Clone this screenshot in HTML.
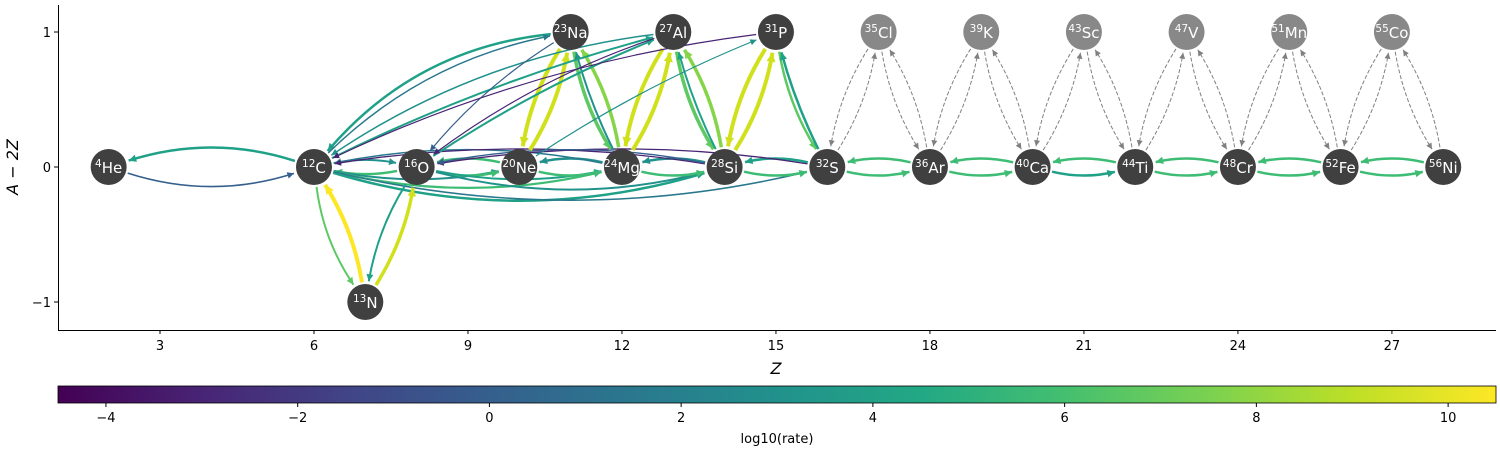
<!DOCTYPE html><html><head><meta charset="utf-8"><style>body{margin:0;background:#fff}svg{display:block;font-family:"DejaVu Sans","Liberation Sans",sans-serif}</style></head><body>
<svg id="s" width="1500" height="450" xmlns="http://www.w3.org/2000/svg">
<defs><linearGradient id="vir" x1="0" x2="1">
<stop offset="0" stop-color="#440154"/><stop offset="0.1" stop-color="#482475"/><stop offset="0.2" stop-color="#414487"/><stop offset="0.3" stop-color="#355f8d"/><stop offset="0.4" stop-color="#2a788e"/><stop offset="0.5" stop-color="#21918c"/><stop offset="0.6" stop-color="#22a884"/><stop offset="0.7" stop-color="#44bf70"/><stop offset="0.8" stop-color="#7ad151"/><stop offset="0.9" stop-color="#bddf26"/><stop offset="1" stop-color="#fde725"/></linearGradient></defs>
<g id="edges"></g><g id="nodes"></g>
<g stroke="#000" stroke-width="1" fill="none"><path d="M58.5,5 V330.5 H1496"/></g>
<g id="axes" font-size="13" fill="#000"></g>
<rect x="58" y="386" width="1438" height="17" fill="url(#vir)" stroke="#000" stroke-width="0.8"/>
<text x="776" y="374" font-size="16" font-style="italic" text-anchor="middle">Z</text>
<text x="18" y="167" font-size="16" font-style="italic" text-anchor="middle" transform="rotate(-90 18 167)">A − 2Z</text>
<text x="777" y="443" font-size="13" text-anchor="middle">log10(rate)</text>
</svg>
<script>
const X=z=>6+z*51.33, Y=v=>167-v*135;
const N={He:[2,0,4],C:[6,0,12],N:[7,-1,13],O:[8,0,16],Ne:[10,0,20],Na:[11,1,23],Mg:[12,0,24],Al:[13,1,27],Si:[14,0,28],P:[15,1,31],S:[16,0,32],Cl:[17,1,35],Ar:[18,0,36],K:[19,1,39],Ca:[20,0,40],Sc:[21,1,43],Ti:[22,0,44],V:[23,1,47],Cr:[24,0,48],Mn:[25,1,51],Fe:[26,0,52],Co:[27,1,55],Ni:[28,0,56]};
const eg=document.getElementById('edges'),ng=document.getElementById('nodes'),ax=document.getElementById('axes');
const ns="http://www.w3.org/2000/svg";
function el(t,a,p){const e=document.createElementNS(ns,t);for(const k in a)e.setAttribute(k,a[k]);(p||eg).appendChild(e);return e;}
function E(a,b,c,w,r,dash){const A=N[a],B=N[b];let x1=X(A[0]),y1=Y(A[1]),x2=X(B[0]),y2=Y(B[1]);
 const dx=x2-x1,dy=y2-y1,d=Math.hypot(dx,dy);const mx=(x1+x2)/2-dy*r,my=(y1+y2)/2+dx*r;
 let sx=x1+(mx-x1)*20/Math.hypot(mx-x1,my-y1),sy=y1+(my-y1)*20/Math.hypot(mx-x1,my-y1);
 let l2=Math.hypot(mx-x2,my-y2),ex=x2+(mx-x2)*21/l2,ey=y2+(my-y2)*21/l2;
 const p=el('path',{d:`M${sx},${sy} Q${mx},${my} ${ex},${ey}`,stroke:c,'stroke-width':w,fill:'none'});
 if(dash)p.setAttribute('stroke-dasharray','4,2');
 const ux=(ex-mx),uy=(ey-my);const L=Math.hypot(ux,uy);const vx=ux/L,vy=uy/L;const hs=5+w;
 el('path',{d:`M${ex},${ey} L${ex-vx*hs-vy*hs*0.5},${ey-vy*hs+vx*hs*0.5} L${ex-vx*hs+vy*hs*0.5},${ey-vy*hs-vx*hs*0.5}Z`,fill:c});}
const G='#3dbc74',T='#21918c',T2='#2a788e',B='#355f8d',P='#482475',Y1='#fde725',Y2='#d0e11c',L='#86d549',L2='#5ec962',TG='#1fa187';
E('He','C',B,1.6,0.16);E('C','He',TG,2.5,0.16);
E('C','O',T,2,-0.1);E('O','C',G,2.5,-0.1);E('C','Ne',T,2,0.1);E('C','Mg',G,2.2,0.12);E('C','Si',TG,2.5,0.15);E('C','S',T2,1.5,0.12);
E('O','Ne',G,2.5,0.12);E('O','Mg',TG,2,0.1);E('O','Si',T,2,0.13);E('Ne','O',G,2.5,0.12);
E('Ne','Mg',G,2.5,0.12);E('Mg','Ne',T,2.5,0.12);E('Mg','Si',G,2.5,0.12);E('Si','Mg',T,2.5,0.12);E('Si','S',G,2.5,0.12);E('S','Si',TG,2.5,0.12);
E('Mg','C',T2,1.5,0.1);E('Si','C',P,1.3,0.08);E('S','O',P,1.3,0.08);E('Si','O',B,1.3,0.1);
E('C','N',L2,2,0.12);E('N','C',Y1,4,0.1);E('N','O',Y2,3.5,0.1);E('O','N',TG,2,0.1);
E('Ne','Na',Y2,4,0.1);E('Na','Ne',Y2,4,0.1);E('Na','Mg',L2,3.5,0.1);E('Mg','Na',L,3.5,0.1);E('Mg','Na',T,2,-0.05);
E('Mg','Al',Y2,4,0.1);E('Al','Mg',Y2,4,0.1);E('Al','Si',L2,3.5,0.1);E('Si','Al',L,3.5,0.1);E('Si','Al',TG,2,-0.05);
E('Si','P',Y2,4,0.1);E('P','Si',Y2,4,0.1);E('P','S',L2,2.5,0.1);E('S','P',TG,2.5,-0.05);
E('Na','C',TG,2.5,0.2);E('C','Na',T2,1.5,-0.15);E('Al','C',T,1.5,0.12);E('C','Al',TG,2,-0.05);E('O','Al',TG,2,-0.05);E('Al','O',P,1.2,0.08);E('Na','O',B,1.2,0.08);E('P','C',P,1.2,0.08);E('Ne','P',T,1.2,-0.05);
E('S','Ar',G,2.5,0.12);E('Ar','S',G,2.5,0.12);E('Ar','Ca',G,2.5,0.12);E('Ca','Ar',G,2.5,0.12);E('Ca','Ti',TG,2.5,0.12);E('Ti','Ca',G,2.5,0.12);
E('Ti','Cr',G,2.5,0.12);E('Cr','Ti',G,2.5,0.12);E('Cr','Fe',G,2.5,0.12);E('Fe','Cr',G,2.5,0.12);E('Fe','Ni',G,2.5,0.12);E('Ni','Fe',G,2.5,0.12);
[['S','Cl','Ar'],['Ar','K','Ca'],['Ca','Sc','Ti'],['Ti','V','Cr'],['Cr','Mn','Fe'],['Fe','Co','Ni']].forEach(([a,m,b])=>{E(a,m,'#808080',1,0.1,1);E(m,a,'#808080',1,0.1,1);E(m,b,'#808080',1,0.1,1);E(b,m,'#808080',1,0.1,1);});
for(const k in N){const [z,v,a]=N[k];const gray=v==1&&z>15;const x=X(z),y=Y(v);
 el('circle',{cx:x,cy:y,r:18,fill:gray?'#888':'#404040'},ng);
 const t=el('text',{x:x,y:y+6,'text-anchor':'middle',fill:'#fff','font-size':15},ng);
 t.innerHTML=`<tspan font-size="10.5" dy="-6">${a}</tspan><tspan dy="6">${k}</tspan>`;}
[3,6,9,12,15,18,21,24,27].forEach(z=>{el('line',{x1:X(z),x2:X(z),y1:330,y2:334,stroke:'#000'},ax);el('text',{x:X(z),y:350,'text-anchor':'middle'},ax).textContent=z;});
[[1,'1'],[0,'0'],[-1,'−1']].forEach(([v,s])=>{el('line',{x1:54,x2:58,y1:Y(v),y2:Y(v),stroke:'#000'},ax);el('text',{x:51,y:Y(v)+5,'text-anchor':'end'},ax).textContent=s;});
[-4,-2,0,2,4,6,8,10].forEach(v=>{const x=58+(v+4.5)*95.87;el('line',{x1:x,x2:x,y1:403,y2:407,stroke:'#000'},ax);el('text',{x:x,y:422,'text-anchor':'middle'},ax).textContent=v<0?'−'+(-v):v;});
</script></body></html>
